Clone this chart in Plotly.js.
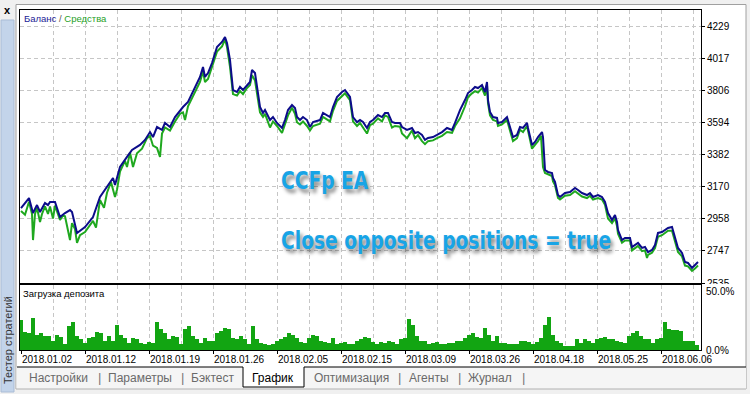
<!DOCTYPE html>
<html><head><meta charset="utf-8">
<script src="https://cdn.plot.ly/plotly-3.0.1.min.js"></script>
<style>html,body{margin:0;padding:0;background:#fff;}#chart{width:750px;height:394px;}</style>
</head><body><div id="chart"></div>
<script>
// ---- data (x = trade number) ----
const priceTicks = [2535, 2747, 2958, 3170, 3382, 3594, 3806, 4017, 4229];
const dateTicks = [1, 65, 129, 193, 257, 321, 385, 449, 513, 577, 641];
const dateLabels = ['2018.01.02','2018.01.12','2018.01.19','2018.01.26','2018.02.05','2018.02.15','2018.03.09','2018.03.26','2018.04.18','2018.05.25','2018.06.06'];
const loadTicks = ['50.0%', '0.0%'];

const balX = [1,9,13,17,20,25,28,30,35,40,45,50,52,55,57,65,73,80,87,93,95,100,107,112,120,125,130,133,137,142,145,150,155,163,168,173,180,183,185,188,192,197,202,205,207,210,213,217,220,223,230,232,235,240,243,245,250,253,257,262,265,268,272,275,277,280,283,287,290,293,300,303,310,313,317,322,325,330,333,337,340,343,347,350,353,358,362,365,368,372,375,380,382,387,392,395,398,402,405,408,413,417,422,427,432,435,440,445,448,452,455,458,462,465,467,468,470,473,477,478,482,487,490,493,497,500,503,507,508,512,515,518,522,523,525,528,532,533,535,538,540,545,550,555,558,562,567,570,573,578,582,585,588,592,595,597,598,602,605,610,612,615,618,622,625,628,632,635,638,642,645,648,652,655,658,662,665,668,672,675,678];
const balance = [3029,3095,2996,3049,3003,3062,3049,3069,3069,2970,
2996,3016,3003,2930,2865,2904,2970,3102,3168,3227,
3181,3300,3366,3412,3445,3478,3530,3497,3563,3544,
3590,3563,3629,3695,3728,3794,3893,3959,3893,3919,
3985,4091,4124,4156,4117,4005,3807,3794,3827,3807,
3860,3939,3919,3695,3656,3675,3609,3629,3590,3557,
3609,3675,3708,3689,3629,3609,3629,3609,3563,3596,
3609,3656,3629,3695,3761,3794,3807,3761,3629,3596,
3609,3596,3557,3596,3609,3642,3629,3656,3656,3596,
3590,3590,3563,3544,3557,3524,3530,3511,3478,3491,
3497,3511,3530,3557,3544,3590,3675,3741,3787,3807,
3827,3820,3840,3794,3860,3741,3662,3629,3623,3590,
3596,3629,3563,3497,3511,3563,3557,3590,3557,3445,
3465,3497,3530,3497,3280,3267,3260,3227,3201,3115,
3102,3128,3135,3161,3148,3128,3115,3128,3102,3115,
3102,3069,2996,2950,2983,2937,2884,2818,2832,2832,
2772,2785,2799,2766,2772,2739,2753,2785,2865,2871,
2884,2898,2904,2838,2766,2733,2673,2667,2634,2654,
2673];

const eqX = [1,5,9,12,13,15,17,20,22,25,28,30,33,35,40,43,45,48,50,52,55,57,60,65,68,73,76,80,84,87,91,95,97,100,105,107,110,113,117,122,127,130,133,137,140,142,145,150,155,160,163,165,168,173,178,180,183,185,188,192,197,202,205,207,210,213,217,220,223,227,230,232,235,240,243,245,250,253,257,262,265,268,272,275,277,280,283,287,290,293,300,303,310,313,317,322,325,330,333,337,340,343,347,350,353,358,362,365,368,372,375,380,382,387,392,395,398,402,405,408,413,417,422,427,432,435,440,445,448,452,455,458,462,465,467,468,470,473,477,478,482,487,490,493,497,500,503,507,508,512,515,518,521,523,525,528,532,533,535,538,540,545,550,555,558,562,567,570,573,578,582,585,588,592,595,597,598,602,605,610,612,615,618,622,625,627,628,632,635,638,642,645,648,652,655,658,662,665,668,672,675,678];
const equity = [3010,2985,3070,2990,2818,2990,3030,2937,2990,3040,
2990,3040,2960,3045,2950,2980,2975,2880,2818,2930,
2890,2799,2850,2871,2900,2945,2900,3082,3030,3130,
3200,3102,3150,3270,3340,3300,3395,3300,3390,3420,
3490,3505,3440,3425,3366,3520,3560,3540,3600,3650,
3660,3609,3700,3770,3840,3860,3930,3860,3880,3960,
4060,4095,4140,4090,3960,3780,3770,3800,3780,3820,
3840,3905,3870,3660,3630,3650,3560,3600,3570,3524,
3580,3640,3690,3650,3595,3580,3600,3570,3540,3570,
3585,3630,3600,3670,3735,3770,3785,3740,3600,3570,
3590,3560,3520,3575,3585,3620,3600,3640,3630,3560,
3570,3565,3520,3490,3540,3490,3510,3470,3450,3470,
3475,3490,3505,3530,3525,3570,3620,3700,3760,3785,
3800,3790,3820,3770,3840,3720,3640,3610,3600,3570,
3580,3610,3540,3470,3490,3545,3530,3570,3540,3420,
3445,3470,3505,3300,3260,3250,3240,3205,3180,3095,
3085,3110,3115,3140,3125,3105,3095,3110,3085,3095,
3085,3050,2960,2930,2960,2910,2860,2800,2815,2815,
2750,2765,2780,2745,2750,2700,2720,2735,2765,2840,
2850,2865,2880,2880,2810,2740,2710,2650,2645,2615,
2630,2650];

// deposit load, % (one bar per 4 trades, starting at trade 1)
const load = [25,15,14,27,13,14,12,12,8,13,
11,5,20,24,12,9,6,10,11,15,
14,8,12,8,21,13,10,6,10,9,
6,5,7,6,24,18,14,9,12,11,
5,18,20,12,9,6,10,8,8,14,
16,19,18,10,9,12,9,5,20,9,
6,5,4,5,8,9,11,14,13,10,
7,6,10,13,12,8,7,6,10,5,
6,7,5,5,8,9,11,10,7,5,
7,6,8,7,5,9,10,26,21,12,
8,8,5,6,7,5,5,6,6,8,
8,10,13,14,11,10,19,13,8,12,
6,6,5,5,5,8,8,7,5,7,
10,21,28,13,8,6,3,3,3,9,
6,9,8,6,9,10,11,9,9,8,
7,6,12,14,16,12,9,9,6,9,
10,24,18,17,17,16,8,8,8,4];
const loadX = load.map((v, i) => 1 + 4 * i);

const tabs = ['Настройки','|','Параметры','|','Бэктест','График','Оптимизация','|','Агенты','|','Журнал','|'];

// ---- layout helpers ----
const W = 750, H = 394;
const px = x => x / W;
const py = y => 1 - y / H;
const tabPos = [58, 99, 140, 182, 212, 273, 351, 399, 429, 459, 490, 523];

const GRID = '#c6c6c6';
const DASH = '4px,3px';
const gridX = [];
for (let v = 1; v <= 681; v += 32) gridX.push(v);

const traces = [
  {type:'scatter', mode:'lines', x:eqX, y:equity, xaxis:'x', yaxis:'y',
   line:{color:'#1fa81f', width:2}, hoverinfo:'skip'},
  {type:'scatter', mode:'lines', x:balX, y:balance, xaxis:'x', yaxis:'y',
   line:{color:'#0c0c8a', width:2}, hoverinfo:'skip'},
  {type:'bar', x:loadX, y:load, xaxis:'x2', yaxis:'y2', width:4,
   marker:{color:'#12a512', line:{width:0}}, hoverinfo:'skip'}
];

const shapes = [
  // window chrome
  {type:'rect', xref:'paper', yref:'paper', x0:0, x1:1, y0:py(0), y1:py(4.5), fillcolor:'#f0f0f0', line:{width:0}},
  {type:'line', xref:'paper', yref:'paper', x0:px(16), x1:px(746), y0:py(4.5), y1:py(4.5), line:{color:'#a0a0a0', width:1}},
  {type:'rect', xref:'paper', yref:'paper', x0:px(746), x1:1, y0:0, y1:1, fillcolor:'#f0f0f0', line:{width:0}},
  {type:'line', xref:'paper', yref:'paper', x0:px(746), x1:px(746), y0:py(4.5), y1:py(389), line:{color:'#a0a0a0', width:1}},
  {type:'rect', xref:'paper', yref:'paper', x0:0, x1:px(16), y0:0, y1:1, fillcolor:'#f0f0f0', line:{width:0}},
  {type:'rect', xref:'paper', yref:'paper', x0:px(1), x1:px(14), y0:py(392), y1:py(20), fillcolor:'#c3d4ea', line:{color:'#a9bcd6', width:1}},
  {type:'line', xref:'paper', yref:'paper', x0:px(16), x1:px(16), y0:py(4.5), y1:py(389), line:{color:'#a0a0a0', width:1}},
  // tab strip
  {type:'rect', xref:'paper', yref:'paper', x0:px(16.5), x1:px(746), y0:py(389), y1:py(367), fillcolor:'#f5f5f5', line:{width:0}},
  {type:'rect', xref:'paper', yref:'paper', x0:px(16), x1:1, y0:0, y1:py(389), fillcolor:'#f0f0f0', line:{width:0}},
  {type:'line', xref:'paper', yref:'paper', x0:px(16), x1:px(746), y0:py(389), y1:py(389), line:{color:'#b0b0b0', width:1}},
  {type:'line', xref:'paper', yref:'paper', x0:px(17), x1:px(243), y0:py(367), y1:py(367), line:{color:'#000', width:1}},
  {type:'line', xref:'paper', yref:'paper', x0:px(304), x1:px(746), y0:py(367), y1:py(367), line:{color:'#000', width:1}},
  {type:'rect', xref:'paper', yref:'paper', x0:px(243), x1:px(304), y0:py(387), y1:py(367), fillcolor:'#ffffff', line:{width:0}},
  {type:'path', xref:'paper', yref:'paper',
   path:`M ${px(243)} ${py(367)} L ${px(243)} ${py(387)} L ${px(304)} ${py(387)} L ${px(304)} ${py(367)}`,
   line:{color:'#000', width:1}},
  // hide lower half of the bottom price label (covered by lower pane)
  {type:'rect', xref:'paper', yref:'paper', x0:px(702), x1:px(745), y0:py(290), y1:py(284), fillcolor:'#ffffff', line:{width:0}, layer:'above'}
];

const BIG = {family:'Liberation Sans Narrow, DejaVu Sans Condensed, Arial Narrow, sans-serif', size:25, weight:700,
             color:'#18a4e6', shadow:'3px 4px 4px rgba(0,0,0,0.45)'};

const annotations = [
  {xref:'paper', yref:'paper', x:px(22), y:py(18), xanchor:'left', yanchor:'middle', showarrow:false,
   text:'<span style="color:#1c1c96">Баланс</span><span style="color:#555"> / </span><span style="color:#1f9f1f">Средства</span>',
   font:{size:9.5}},
  {xref:'paper', yref:'paper', x:px(21), y:py(293), xanchor:'left', yanchor:'middle', showarrow:false,
   text:'Загрузка депозита', font:{size:9.5, color:'#000'}},
  {xref:'paper', yref:'paper', x:px(704), y:py(291), xanchor:'left', yanchor:'middle', showarrow:false,
   text:loadTicks[0], font:{size:10, color:'#000'}},
  {xref:'paper', yref:'paper', x:px(704), y:py(350), xanchor:'left', yanchor:'middle', showarrow:false,
   text:loadTicks[1], font:{size:10, color:'#000'}},
  {xref:'paper', yref:'paper', x:px(279), y:py(180), xanchor:'left', yanchor:'middle', showarrow:false,
   text:'CCFp EA', font:BIG},
  {xref:'paper', yref:'paper', x:px(279), y:py(240), xanchor:'left', yanchor:'middle', showarrow:false,
   text:'Close opposite positions = true', font:BIG},
  {xref:'paper', yref:'paper', x:px(7), y:py(10), xanchor:'center', yanchor:'middle', showarrow:false,
   text:'<b>x</b>', font:{size:11, color:'#000'}},
  {xref:'paper', yref:'paper', x:px(8), y:py(340), xanchor:'center', yanchor:'middle', showarrow:false,
   text:'Тестер стратегий', textangle:-90, font:{size:11, color:'#333'}}
];
tabs.forEach((t, i) => {
  annotations.push({xref:'paper', yref:'paper', x:px(tabPos[i]), y:py(377.5), xanchor:'center', yanchor:'middle',
    showarrow:false, text:t,
    font:{size: t === '|' ? 13 : 12, color: t === 'График' ? '#000' : (t === '|' ? '#777' : '#6a6a6a')}});
});

const layout = {
  width:W, height:H, margin:{l:0, r:0, t:0, b:0},
  paper_bgcolor:'#ffffff', plot_bgcolor:'#ffffff', showlegend:false, bargap:0,
  font:{family:'Liberation Sans, Arial, sans-serif', size:10, color:'#000'},
  xaxis:{domain:[px(20), px(701)], range:[0, 681], anchor:'y', tickmode:'array', tickvals:gridX,
    showticklabels:false, ticks:'', showgrid:true, gridcolor:GRID, griddash:DASH, gridwidth:1,
    showline:true, mirror:true, linecolor:'#000', linewidth:1, zeroline:false, fixedrange:true},
  yaxis:{domain:[py(283), py(10)], range:[2535, 4334.5], anchor:'x', side:'right', tickmode:'array',
    tickvals:priceTicks, ticktext:priceTicks.map(String), ticks:'outside', ticklen:3, tickcolor:'#000',
    tickfont:{size:10, color:'#000'}, showgrid:true, gridcolor:GRID, griddash:DASH,
    showline:true, mirror:true, linecolor:'#000', linewidth:1, zeroline:false, fixedrange:true},
  xaxis2:{domain:[px(20), px(701)], range:[0, 681], anchor:'y2', tickmode:'array',
    tickvals:dateTicks, ticktext:dateLabels, ticks:'outside', ticklen:3, tickcolor:'#000',
    ticklabelposition:'outside right', tickfont:{size:10, color:'#000'},
    showgrid:true, gridcolor:GRID, griddash:DASH,
    minor:{tickmode:'linear', tick0:1, dtick:32, showgrid:true, gridcolor:GRID, griddash:DASH, ticks:''},
    showline:true, mirror:true, linecolor:'#000', linewidth:1, zeroline:false, fixedrange:true},
  yaxis2:{domain:[py(350), py(285)], range:[0, 55], anchor:'x2', showticklabels:false, ticks:'',
    showgrid:false, showline:true, mirror:true, linecolor:'#000', linewidth:1, zeroline:false, fixedrange:true},
  shapes:shapes, annotations:annotations
};

Plotly.newPlot('chart', traces, layout, {displayModeBar:false, staticPlot:true}).then(gd => {
  // the reference uses a tall condensed face: squeeze the two overlay captions horizontally
  gd.querySelectorAll('text.annotation-text').forEach(el => {
    const t = el.textContent;
    if (t === 'CCFp EA' || t.indexOf('Close opposite') === 0) {
      el.style.transformBox = 'fill-box';
      el.style.transformOrigin = 'left center';
      el.style.transform = 'scaleX(0.83)';
    }
  });
});
</script></body></html>
